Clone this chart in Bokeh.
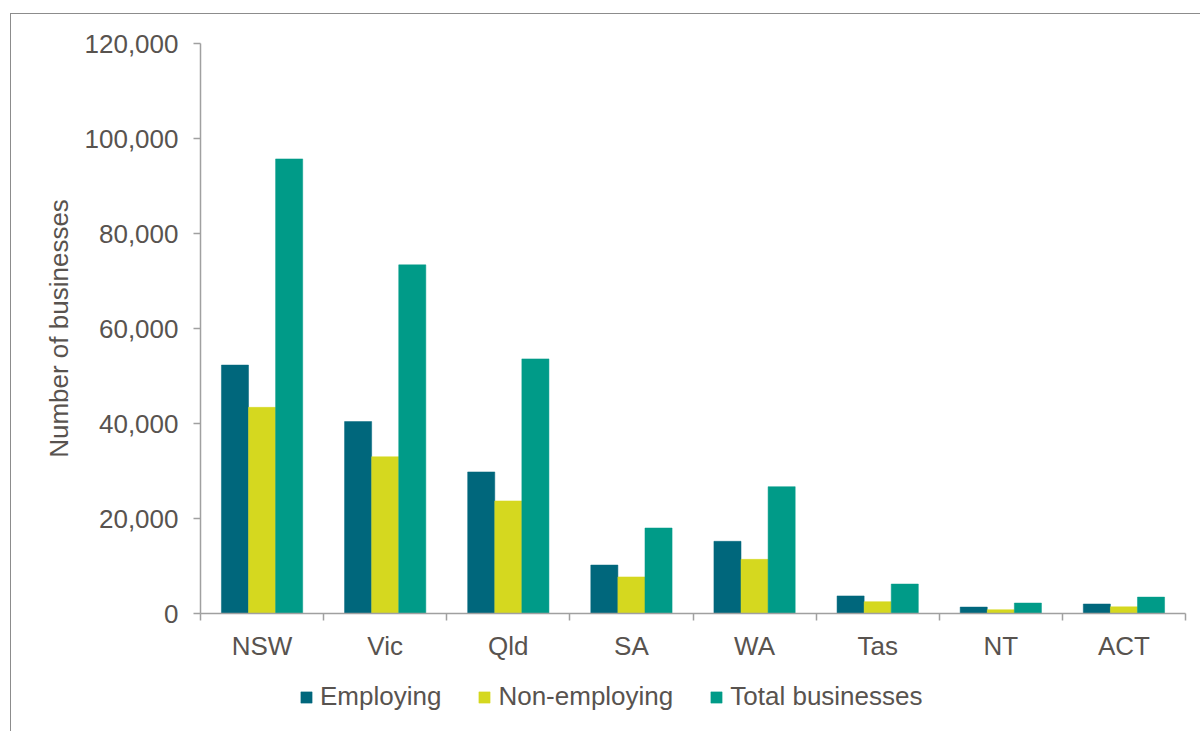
from bokeh.plotting import figure
from bokeh.layouts import column
from bokeh.models import (Range1d, LinearAxis, FixedTicker,
                          NumeralTickFormatter, Legend, LegendItem, ColumnDataSource)
from bokeh.transform import dodge
from bokeh.embed import file_html
from bokeh.resources import INLINE

# ---- data ----
states = ["NSW", "Vic", "Qld", "SA", "WA", "Tas", "NT", "ACT"]
employing = [52300, 40400, 29800, 10200, 15200, 3700, 1350, 2000]
non_employing = [43400, 33000, 23700, 7700, 11400, 2500, 800, 1400]
total_businesses = [95700, 73400, 53600, 18000, 26700, 6200, 2200, 3450]
y_ticks = [0, 20000, 40000, 60000, 80000, 100000, 120000]
series_names = ["Employing", "Non-employing", "Total businesses"]
series_colors = ["#00677C", "#D5D81F", "#009B88"]

TEXT = "#58534F"
AXC = "#A0A0A0"
FONT = "Liberation Sans"
FS = "26px"

n = len(states)
centres = [i + 0.5 for i in range(n)]          # category slot centres
src = ColumnDataSource(dict(state=states, pos=centres, emp=employing,
                            nonemp=non_employing, tot=total_businesses))

p = figure(width=1190, height=660,
           x_range=Range1d(0, n),
           y_range=Range1d(0, 120000),
           output_backend="svg", toolbar_location=None,
           x_axis_location=None, y_axis_location=None,
           min_border_left=189, min_border_right=16,
           min_border_top=29, min_border_bottom=61)
p.outline_line_color = None
p.xgrid.visible = False
p.ygrid.visible = False
p.background_fill_color = "white"
p.border_fill_color = "white"

bw = 0.22
fields = ["emp", "nonemp", "tot"]
offsets = [-bw, 0.0, bw]
for f, off, col in zip(fields, offsets, series_colors):
    p.vbar(x=dodge("pos", off), top=f, width=bw, source=src,
           fill_color=col, line_color=col, line_width=0.5)

# x axis: labels at category centres, tick marks at category boundaries
xaxis = LinearAxis(ticker=FixedTicker(ticks=centres, minor_ticks=list(range(n + 1))),
                   major_label_overrides={c: s for c, s in zip(centres, states)},
                   major_tick_line_color=None,
                   minor_tick_out=7, minor_tick_in=0, minor_tick_line_color=AXC,
                   minor_tick_line_width=1.5,
                   axis_line_color=AXC, axis_line_width=1.5,
                   major_label_text_font=FONT, major_label_text_font_size=FS,
                   major_label_text_color=TEXT, major_label_standoff=10)
p.add_layout(xaxis, "below")

yaxis = LinearAxis(ticker=FixedTicker(ticks=y_ticks),
                   formatter=NumeralTickFormatter(format="0,0"),
                   axis_label="Number of businesses",
                   axis_label_text_font=FONT, axis_label_text_font_size=FS,
                   axis_label_text_color=TEXT, axis_label_text_font_style="normal",
                   axis_label_standoff=8,
                   major_tick_out=7, major_tick_in=0, major_tick_line_color=AXC,
                   major_tick_line_width=1.5,
                   minor_tick_line_color=None,
                   axis_line_color=AXC, axis_line_width=1.5,
                   major_label_text_font=FONT, major_label_text_font_size=FS,
                   major_label_text_color=TEXT, major_label_standoff=15)
p.add_layout(yaxis, "left")

# legend strip below the chart (same series, drawn outside its visible y window)
q = figure(width=1190, height=58,
           x_range=Range1d(0, n), y_range=Range1d(200000, 300000),
           output_backend="svg", toolbar_location=None,
           x_axis_location=None, y_axis_location=None,
           min_border_left=0, min_border_right=0, min_border_top=0, min_border_bottom=0)
q.outline_line_color = None
q.xgrid.visible = False
q.ygrid.visible = False
q.border_fill_color = "white"
rends = []
for f, off, col in zip(fields, offsets, series_colors):
    rends.append(q.vbar(x=dodge("pos", off), top=f, width=bw, source=src,
                        fill_color=col, line_color=col, line_width=0.5))

legend = Legend(items=[LegendItem(label=nm, renderers=[r]) for nm, r in zip(series_names, rends)],
                orientation="horizontal", location=(99, 20),
                glyph_width=14, glyph_height=14, label_standoff=7, spacing=36,
                label_text_font=FONT, label_text_font_size=FS, label_text_color=TEXT,
                border_line_color=None, background_fill_alpha=0,
                padding=0, margin=0)
q.add_layout(legend, "center")

layout = column(p, q, spacing=0,
                styles={"margin-left": "10px", "margin-top": "13px",
                        "border-left": "1px solid #8C8C8C", "border-top": "1px solid #8C8C8C"})

open("out.html", "w").write(file_html(layout, INLINE))
